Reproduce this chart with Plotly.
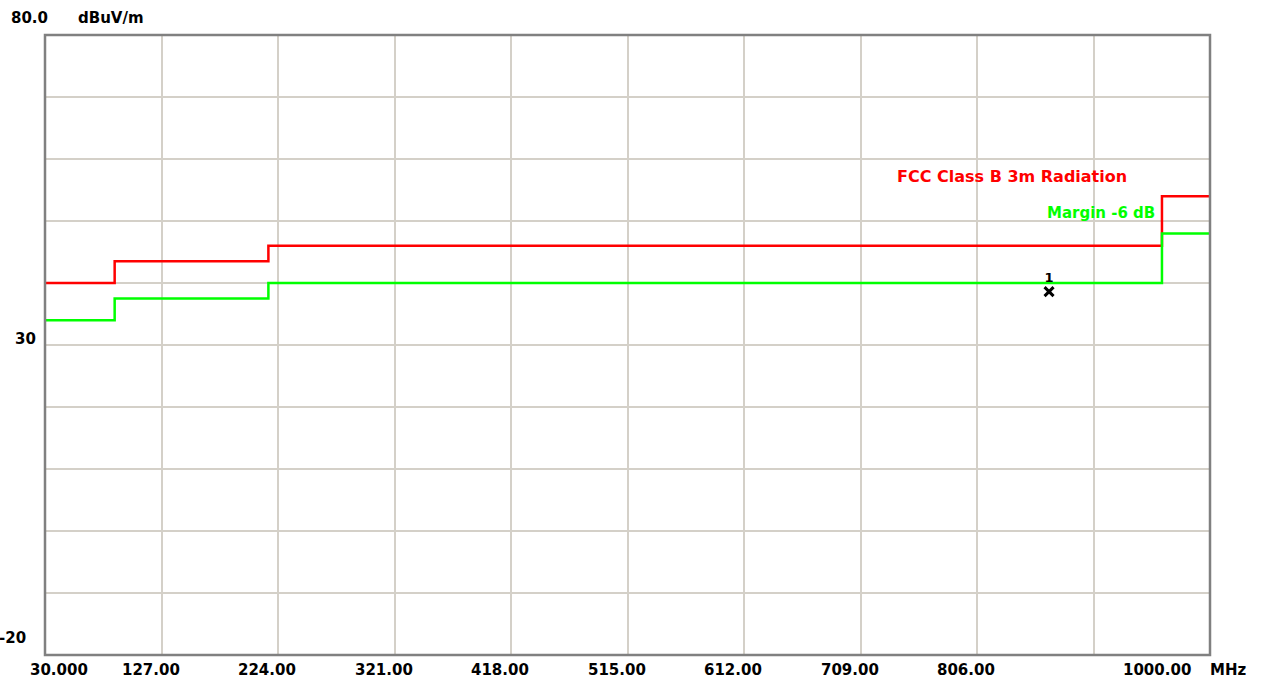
import plotly.graph_objects as go

# ---- data ----
limit_freq = [30, 88, 216, 960, 1000]          # MHz
fcc_class_b = [40, 43.5, 46, 54, 54]           # dBuV/m
margin_line = [34, 37.5, 40, 48, 48]           # dBuV/m (limit - 6 dB)
peak_freq = [866]
peak_level = [38.6]
x_ticks = [30, 127, 224, 321, 418, 515, 612, 709, 806, 903, 1000]
x_tick_labels = ["30.000", "127.00", "224.00", "321.00", "418.00", "515.00",
                 "612.00", "709.00", "806.00", "", "1000.00"]
y_ticks = [-20, -10, 0, 10, 20, 30, 40, 50, 60, 70, 80]
y_tick_labels = {80: "80.0", 30: "30", -20: "-20"}

FONT = "DejaVu Sans"
GRID = "#d4d0c8"

fig = go.Figure()
fig.add_trace(go.Scatter(x=limit_freq, y=fcc_class_b, mode="lines",
                         line=dict(color="#ff0000", width=2.5, shape="hv"),
                         hoverinfo="skip", showlegend=False))
fig.add_trace(go.Scatter(x=limit_freq, y=margin_line, mode="lines",
                         line=dict(color="#00ff00", width=2.5, shape="hv"),
                         hoverinfo="skip", showlegend=False))
fig.add_trace(go.Scatter(x=peak_freq, y=peak_level, mode="markers+text",
                         marker=dict(symbol="x-thin", size=9, color="black",
                                     line=dict(color="black", width=3)),
                         text=["1"], textposition="top center",
                         textfont=dict(family=FONT, size=13, color="black"),
                         hoverinfo="skip", showlegend=False))

W, H = 1265, 684
L, T = 45, 35
R = W - 1210
B = H - 655
pw, ph = W - L - R, H - T - B

def px(x):
    return (x - L) / pw

def py(y):
    return (H - B - y) / ph

ann = []
for i, (v, lab) in enumerate(zip(x_ticks, x_tick_labels)):
    if not lab:
        continue
    if i == 0:
        anchor, shift = "left", -17
    elif i == len(x_ticks) - 1:
        anchor, shift = "right", -17
    else:
        anchor, shift = "right", 20
    ann.append(dict(x=v, y=py(670), xref="x", yref="paper", text=lab,
                    xanchor=anchor, yanchor="middle", xshift=shift, showarrow=False))
ann.append(dict(x=px(1208), y=py(670), xref="paper", yref="paper", text="MHz",
                xanchor="left", yanchor="middle", showarrow=False))
ann.append(dict(x=px(50), y=py(18), xref="paper", yref="paper", text=y_tick_labels[80],
                xanchor="right", yanchor="middle", showarrow=False))
ann.append(dict(x=px(76), y=py(18), xref="paper", yref="paper", text="dBuV/m",
                xanchor="left", yanchor="middle", showarrow=False))
ann.append(dict(x=px(38), y=30, xref="paper", yref="y", text=y_tick_labels[30],
                xanchor="right", yanchor="middle", yshift=6, showarrow=False))
ann.append(dict(x=px(28), y=-20, xref="paper", yref="y", text=y_tick_labels[-20],
                xanchor="right", yanchor="middle", yshift=17, showarrow=False))
ann.append(dict(x=px(895), y=py(176), xref="paper", yref="paper",
                text="FCC Class B 3m Radiation", font=dict(color="#ff0000", size=16),
                xanchor="left", yanchor="middle", showarrow=False))
ann.append(dict(x=px(1045), y=py(213), xref="paper", yref="paper",
                text="Margin -6 dB", font=dict(color="#00ff00", size=15),
                xanchor="left", yanchor="middle", showarrow=False))

fig.update_layout(
    width=W, height=H,
    margin=dict(l=L, r=R, t=T, b=B),
    paper_bgcolor="white", plot_bgcolor="white",
    font=dict(family=FONT, size=15, color="black", weight="bold"),
    xaxis=dict(range=[30, 1000], tickvals=x_ticks, showticklabels=False,
               showgrid=True, gridcolor=GRID, gridwidth=1.5, zeroline=False,
               showline=False, ticks=""),
    yaxis=dict(range=[-20, 80], tickvals=y_ticks, showticklabels=False,
               showgrid=True, gridcolor=GRID, gridwidth=1.5, zeroline=False,
               showline=False, ticks=""),
    annotations=ann,
    shapes=[dict(type="rect", xref="paper", yref="paper", x0=0, x1=1, y0=0, y1=1,
                 line=dict(color="#808080", width=2.5), layer="above")],
)

fig.write_html("out.html", config={"displayModeBar": False},
               post_script="document.body.style.margin='0px';")
